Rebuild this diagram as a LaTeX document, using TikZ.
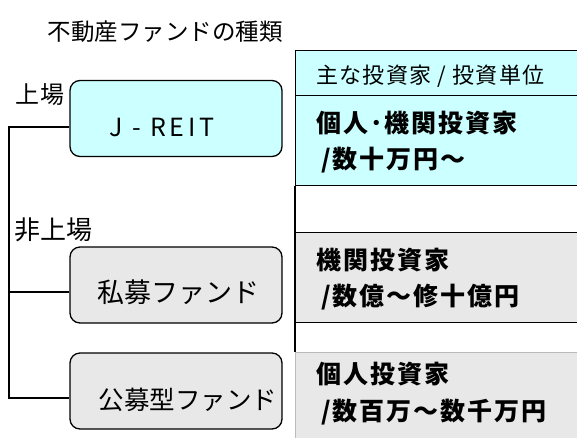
\documentclass[tikz,border=0pt]{standalone}
\usepackage{fontspec}
\setmainfont{Noto Sans CJK JP}
\newfontfamily\jrfont[LetterSpace=15]{Noto Sans CJK JP}
\newfontfamily\hdrfont[LetterSpace=6]{Noto Sans CJK JP}
\newfontfamily\cellfont[LetterSpace=8]{Noto Sans CJK JP}
\definecolor{cellcyan}{HTML}{CCFFFF}
\definecolor{cellgray}{HTML}{E8E8E8}
\definecolor{lightedge}{HTML}{BBBBBB}
\begin{document}
\begin{tikzpicture}[x=1pt,y=-1pt,
  line/.style={line width=1.3pt},
  fundbox/.style={draw, line width=1.3pt, rounded corners=10pt, minimum width=212pt, minimum height=76pt, inner sep=0pt},
  cellbox/.style={draw, line width=1.3pt, anchor=north west, minimum width=320pt, inner sep=0pt},
  boxtext/.style={inner sep=0pt},
  celltext/.style={anchor=west, align=left, inner sep=0pt, font=\cellfont\fontsize{25}{36}\selectfont\bfseries},
  sidetext/.style={inner sep=0pt}
]
\clip (0,0) rectangle (577,437);
\fill[white] (0,0) rectangle (577,437);

% title
\node[font=\fontsize{23.5}{28}\selectfont, inner sep=0pt] (title) at (165,32) {不動産ファンドの種類};

% right column cells
\node[cellbox, fill=cellcyan, minimum height=45pt] (hdr) at (295,50) {};
\node[cellbox, fill=cellcyan, minimum height=90pt] (c1) at (295,95) {};
\node[cellbox, fill=cellgray, minimum height=90pt] (c2) at (295,232) {};
\node[cellbox, fill=cellgray, draw=lightedge, minimum height=100pt] (c3) at (295,352) {};
\draw[line] (c1.south west) -- (c3.north west);

\node[anchor=west, inner sep=0pt, font=\hdrfont\fontsize{22}{24}\selectfont] (th) at (316,76) {主な投資家 / 投資単位};
\node[celltext] (t1) at (316,142) {個人･機関投資家\\\hspace{5pt}/数十万円～};
\node[celltext] (t2) at (316,279.5) {機関投資家\\\hspace{5pt}/数億～修十億円};
\node[celltext, font=\cellfont\fontsize{25}{37}\selectfont\bfseries] (t3) at (316,393.5) {個人投資家\\\hspace{5pt}/数百万～数千万円};

% left fund boxes
\node[fundbox, fill=cellcyan] (jr) at (176,118.5) {};
\node[fundbox, fill=cellgray] (shibo) at (176,285) {};
\node[fundbox, fill=cellgray] (kobo) at (176,391) {};
\node[boxtext, font=\jrfont\fontsize{25}{28}\selectfont] (jrt) at (162,127) {J - REIT};
\node[boxtext, font=\fontsize{27}{30}\selectfont] (shibot) at (178,292) {私募ファンド};
\node[boxtext, font=\fontsize{25.5}{30}\selectfont] (kobot) at (188,400) {公募型ファンド};

% side labels
\node[sidetext, font=\fontsize{24}{28}\selectfont] (listed) at (40,95) {上場};
\node[sidetext, font=\fontsize{26}{28}\selectfont] (unlisted) at (53,230) {非上場};

% bracket connectors
\coordinate (btop) at (9,127);
\coordinate (bmid) at (9,292);
\coordinate (bbot) at (9,398);
\draw[line] (btop -| jr.west) -- (btop) -- (bbot) -- (bbot -| kobo.west);
\draw[line] (bmid) -- (bmid -| shibo.west);
\end{tikzpicture}
\end{document}
